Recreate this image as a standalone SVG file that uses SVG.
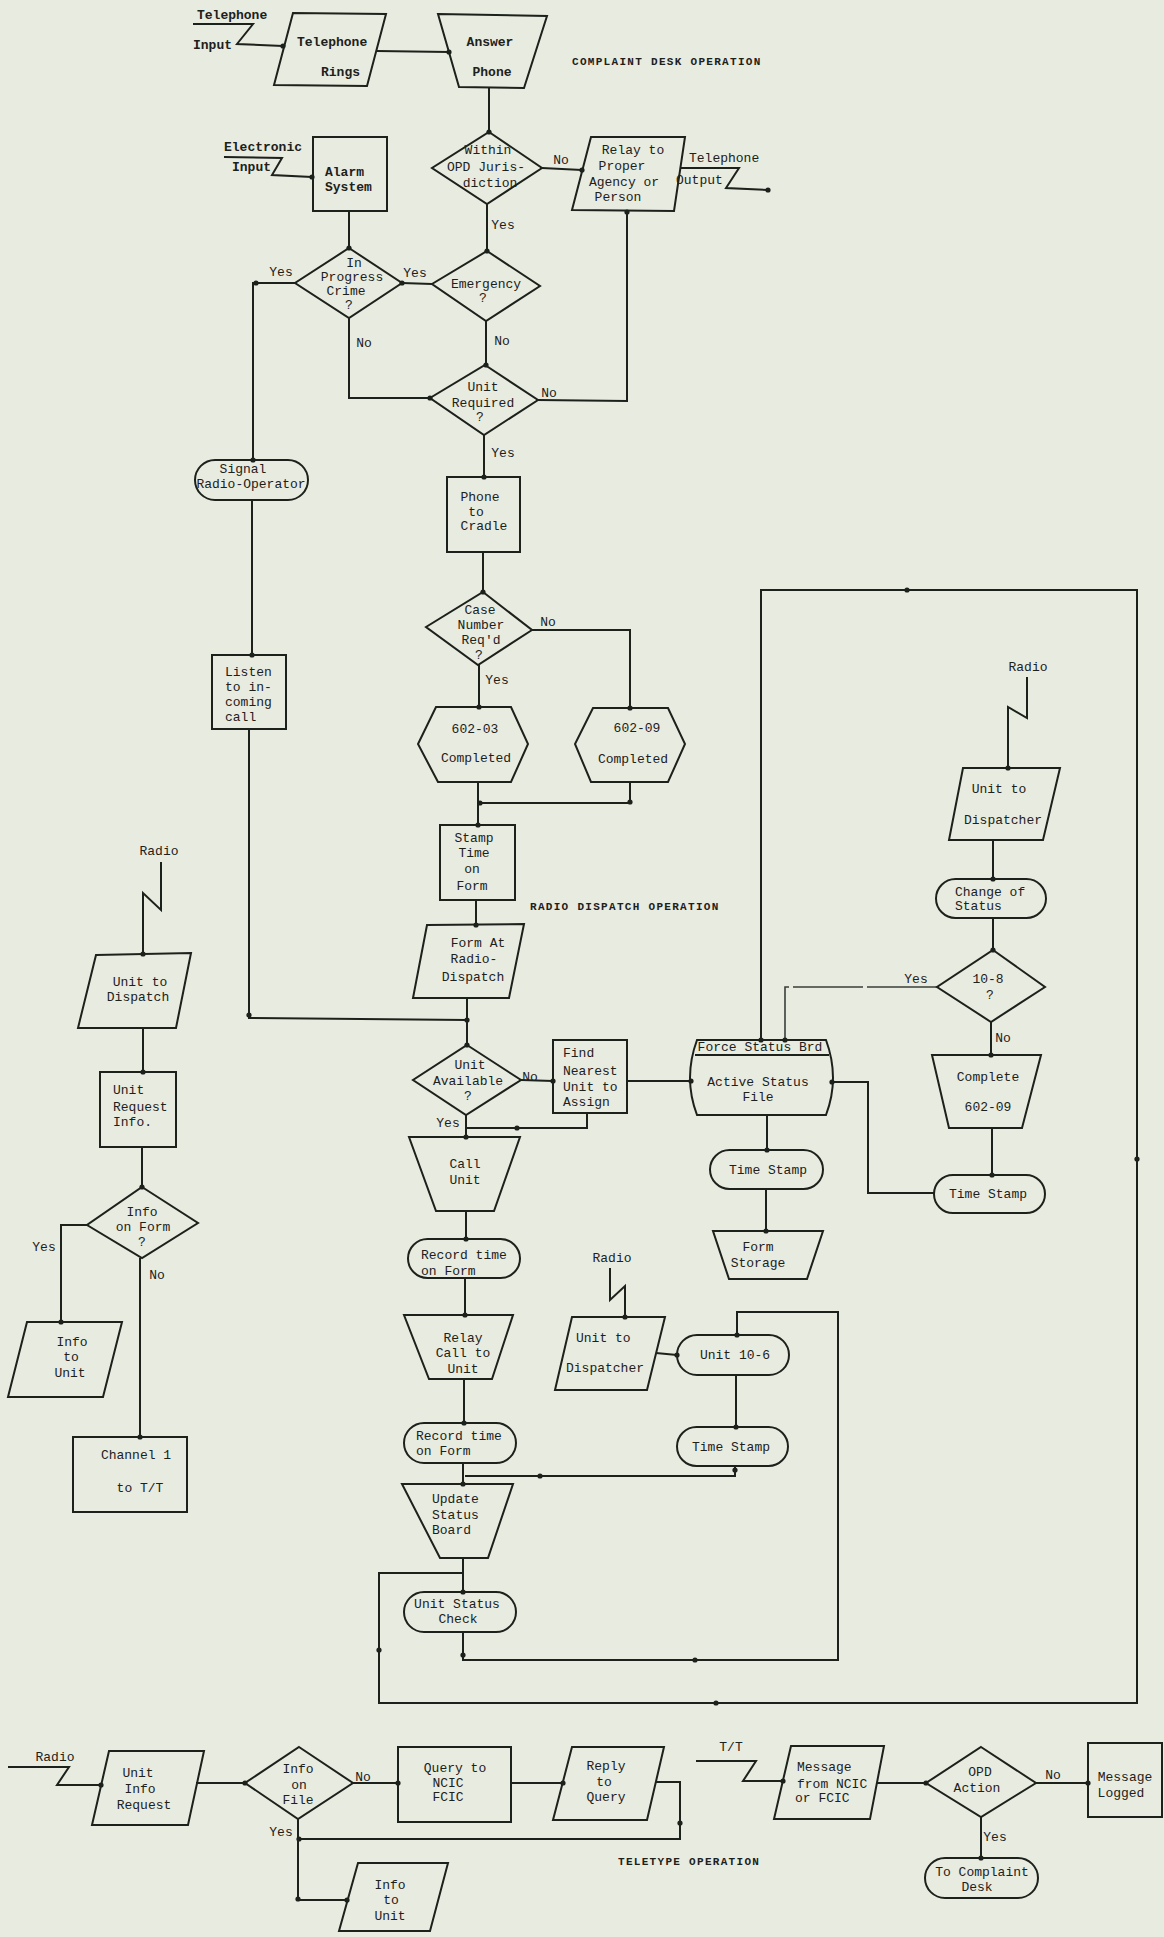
<svg xmlns="http://www.w3.org/2000/svg" width="1164" height="1937" viewBox="0 0 1164 1937">
<defs>
<marker id="dot" viewBox="0 0 6 6" refX="3" refY="3" markerWidth="6" markerHeight="6" markerUnits="userSpaceOnUse"><circle cx="3" cy="3" r="2.6" fill="#1c211c"/></marker>
<style>
.bg{fill:#e8ebdf}
.s{fill:none;stroke:#1c211c;stroke-width:2;stroke-linejoin:miter}
.c{fill:none;stroke:#1c211c;stroke-width:2;marker-end:url(#dot)}
.d{fill:none;stroke:#3a3f3a;stroke-width:1.6;stroke-dasharray:70 4;marker-end:url(#dot)}
.p{fill:#1c211c}
text{font-family:"Liberation Mono","DejaVu Sans Mono",monospace;font-size:13px;fill:#1c211c;dominant-baseline:central;text-anchor:middle}
.l{text-anchor:start}
.b{font-weight:bold}
.h{font-size:11px;font-weight:bold;letter-spacing:1.3px;text-anchor:start}
</style>
</defs>
<rect class="bg" x="0" y="0" width="1164" height="1937"/>

<g id="connectors">
<path class="c" d="M193,24 L253,24 L237,44 L283,46"/>
<path class="c" d="M377,51 L449,52"/>
<path class="c" d="M489,88 L489,132"/>
<path class="c" d="M542,168 L582,170"/>
<path class="c" d="M680,168 L739,168 L726,188 L768,190"/>
<path class="c" d="M487,204 L487,251"/>
<path class="c" d="M432,284 L402,283"/>
<path class="c" d="M224,157 L282,158 L272,175 L312,177"/>
<path class="c" d="M349,211 L349,248"/>
<path class="c" d="M295,283 L253,283 L253,460"/>
<circle class="p" cx="256" cy="283" r="2.6"/>
<path class="c" d="M349,318 L349,398 L430,398"/>
<path class="c" d="M486,321 L486,365"/>
<path class="c" d="M538,400 L627,401 L627,212"/>
<path class="c" d="M484,435 L484,477"/>
<path class="c" d="M483,552 L483,592"/>
<path class="c" d="M532,630 L630,630 L630,708"/>
<path class="c" d="M479,665 L479,707"/>
<path class="c" d="M478,782 L478,825"/>
<path class="c" d="M630,782 L630,803 L480,803"/>
<circle class="p" cx="630" cy="802" r="2.6"/>
<path class="c" d="M476,900 L476,925"/>
<path class="c" d="M467,998 L467,1045"/>
<path class="c" d="M252,500 L252,655"/>
<path class="c" d="M249,729 L249,1018 L467,1020"/>
<circle class="p" cx="249" cy="1015" r="2.6"/>
<path class="c" d="M521,1080 L553,1081"/>
<path class="s" d="M587,1113 L587,1128 L466,1128"/>
<circle class="p" cx="517" cy="1128" r="2.6"/>
<path class="c" d="M466,1115 L466,1137"/>
<path class="c" d="M627,1081 L691,1081"/>
<path class="c" d="M466,1211 L466,1239"/>
<path class="c" d="M465,1278 L465,1315"/>
<path class="c" d="M464,1379 L464,1423"/>
<path class="c" d="M463,1463 L463,1484"/>
<path class="s" d="M735,1466 L735,1476 L465,1476"/>
<circle class="p" cx="540" cy="1476" r="2.6"/>
<circle class="p" cx="735" cy="1470" r="2.6"/>
<path class="c" d="M463,1558 L463,1592"/>
<path class="c" d="M463,1573 L379,1573 L379,1703 L1137,1703 L1137,590 L761,590 L761,1040"/>
<circle class="p" cx="379" cy="1650" r="2.6"/>
<circle class="p" cx="716" cy="1703" r="2.6"/>
<circle class="p" cx="1137" cy="1159" r="2.6"/>
<circle class="p" cx="907" cy="590" r="2.6"/>
<path class="c" d="M463,1632 L463,1660 L838,1660 L838,1312 L737,1312 L737,1335"/>
<circle class="p" cx="463" cy="1655" r="2.6"/>
<circle class="p" cx="695" cy="1660" r="2.6"/>
<path class="c" d="M610,1268 L610,1300 L625,1286 L625,1317"/>
<path class="c" d="M656,1353 L677,1355"/>
<path class="c" d="M736,1375 L736,1427"/>
<path class="c" d="M767,1115 L767,1150"/>
<path class="c" d="M766,1189 L766,1231"/>
<path class="c" d="M934,1193 L868,1193 L868,1082 L832,1082"/>
<path class="c" d="M992,1128 L992,1175"/>
<path class="c" d="M991,1022 L991,1055"/>
<path class="d" d="M937,987 L785,987 L785,1040"/>
<path class="c" d="M993,840 L993,879"/>
<path class="c" d="M993,918 L993,950"/>
<path class="c" d="M1027,677 L1027,718 L1008,707 L1008,768"/>
<path class="c" d="M161,862 L161,910 L143,893 L143,954"/>
<path class="c" d="M143,1028 L143,1072"/>
<path class="c" d="M142,1147 L142,1187"/>
<path class="c" d="M87,1225 L61,1225 L61,1322"/>
<path class="c" d="M140,1258 L140,1437"/>
<path class="c" d="M8,1767 L69,1767 L57,1785 L101,1785"/>
<path class="c" d="M196,1783 L245,1783"/>
<path class="c" d="M353,1783 L398,1783"/>
<path class="c" d="M511,1783 L563,1783"/>
<path class="c" d="M656,1782 L680,1782 L680,1839 L299,1839"/>
<circle class="p" cx="680" cy="1823" r="2.6"/>
<path class="c" d="M298,1819 L298,1900 L347,1900"/>
<circle class="p" cx="298" cy="1899" r="2.6"/>
<path class="c" d="M696,1761 L756,1761 L743,1781 L783,1781"/>
<path class="c" d="M877,1783 L926,1783"/>
<path class="c" d="M1036,1783 L1088,1783"/>
<path class="c" d="M981,1817 L981,1858"/>
</g>

<g id="labels">
<text class="l b" x="197" y="15">Telephone</text>
<text class="l b" x="193" y="45">Input</text>
<text class="l b" x="224" y="147">Electronic</text>
<text class="l b" x="232" y="167">Input</text>
<text class="l" x="689" y="158">Telephone</text>
<text class="l" x="676" y="180">Output</text>
<text class="h" x="572" y="62">COMPLAINT DESK OPERATION</text>
<text class="h" x="530" y="907">RADIO DISPATCH OPERATION</text>
<text class="h" x="618" y="1862">TELETYPE OPERATION</text>
<text x="561" y="160">No</text>
<text x="503" y="225">Yes</text>
<text x="281" y="272">Yes</text>
<text x="415" y="273">Yes</text>
<text x="364" y="343">No</text>
<text x="502" y="341">No</text>
<text x="549" y="393">No</text>
<text x="503" y="453">Yes</text>
<text x="548" y="622">No</text>
<text x="497" y="680">Yes</text>
<text x="159" y="851">Radio</text>
<text x="530" y="1077">No</text>
<text x="448" y="1123">Yes</text>
<text x="1028" y="667">Radio</text>
<text x="916" y="979">Yes</text>
<text x="1003" y="1038">No</text>
<text x="44" y="1247">Yes</text>
<text x="157" y="1275">No</text>
<text x="612" y="1258">Radio</text>
<text x="55" y="1757">Radio</text>
<text x="363" y="1777">No</text>
<text x="281" y="1832">Yes</text>
<text x="731" y="1747">T/T</text>
<text x="1053" y="1775">No</text>
<text x="995" y="1837">Yes</text>
</g>

<g id="telephone-rings"><polygon class="s" points="293,13 386,14 367,86 274,85"/><text class="l b" x="297" y="42">Telephone</text><text class="l b" x="321" y="72">Rings</text></g>
<g id="answer-phone"><polygon class="s" points="438,14 547,16 524,88 459,87"/><text class="b" x="490" y="42">Answer</text><text class="b" x="492" y="72">Phone</text></g>
<g id="within-opd"><polygon class="s" points="489,132 542,168 487,204 432,168"/><text x="488" y="150">Within</text><text x="486" y="167">OPD Juris-</text><text x="490" y="183">diction</text></g>
<g id="relay-agency"><polygon class="s" points="591,137 685,137 674,211 572,210"/><text x="633" y="150">Relay to</text><text x="622" y="166">Proper</text><text x="624" y="182">Agency or</text><text x="618" y="197">Person</text></g>
<g id="alarm-system"><rect class="s" x="313" y="137" width="74" height="74"/><text class="l b" x="325" y="172">Alarm</text><text class="l b" x="325" y="187">System</text></g>
<g id="in-progress"><polygon class="s" points="349,248 402,283 349,318 295,283"/><text x="354" y="263">In</text><text x="352" y="277">Progress</text><text x="346" y="291">Crime</text><text x="349" y="305">?</text></g>
<g id="emergency"><polygon class="s" points="487,251 540,286 486,321 432,284"/><text x="486" y="284">Emergency</text><text x="483" y="298">?</text></g>
<g id="unit-required"><polygon class="s" points="485,365 538,400 484,435 430,398"/><text x="483" y="387">Unit</text><text x="483" y="403">Required</text><text x="480" y="417">?</text></g>
<g id="signal-radio"><rect class="s" x="195" y="460" width="113" height="40" rx="20"/><text x="243" y="469">Signal</text><text x="251" y="484">Radio-Operator</text></g>
<g id="phone-cradle"><rect class="s" x="447" y="477" width="73" height="75"/><text x="480" y="497">Phone</text><text x="476" y="512">to</text><text x="484" y="526">Cradle</text></g>
<g id="case-number"><polygon class="s" points="483,592 532,630 478,665 426,627"/><text x="480" y="610">Case</text><text x="481" y="625">Number</text><text x="481" y="640">Req'd</text><text x="479" y="655">?</text></g>
<g id="f602-03"><polygon class="s" points="436,707 511,707 528,744 511,782 438,782 418,744"/><text x="475" y="729">602-03</text><text x="476" y="758">Completed</text></g>
<g id="f602-09"><polygon class="s" points="593,708 668,708 685,744 668,782 591,782 575,744"/><text x="637" y="728">602-09</text><text x="633" y="759">Completed</text></g>
<g id="listen"><rect class="s" x="212" y="655" width="74" height="74"/><text class="l" x="225" y="672">Listen</text><text class="l" x="225" y="687">to in-</text><text class="l" x="225" y="702">coming</text><text class="l" x="225" y="717">call</text></g>
<g id="stamp-time"><rect class="s" x="440" y="825" width="75" height="75"/><text x="474" y="838">Stamp</text><text x="474" y="853">Time</text><text x="472" y="869">on</text><text x="472" y="886">Form</text></g>
<g id="form-at-radio"><polygon class="s" points="427,925 524,924 509,998 413,998"/><text x="478" y="943">Form At</text><text x="474" y="959">Radio-</text><text x="473" y="977">Dispatch</text></g>
<g id="unit-available"><polygon class="s" points="467,1045 521,1080 466,1115 413,1080"/><text x="470" y="1065">Unit</text><text x="468" y="1081">Available</text><text x="468" y="1096">?</text></g>
<g id="find-nearest"><rect class="s" x="553" y="1040" width="74" height="73"/><text class="l" x="563" y="1053">Find</text><text class="l" x="563" y="1071">Nearest</text><text class="l" x="563" y="1087">Unit to</text><text class="l" x="563" y="1102">Assign</text></g>
<g id="active-status"><path class="s" d="M697,1040 L826,1040 Q840,1078 826,1115 L697,1115 Q683,1078 697,1040 Z"/><path class="s" d="M695,1055 L829,1055"/><text x="760" y="1047">Force Status Brd</text><text x="758" y="1082">Active Status</text><text x="758" y="1097">File</text></g>
<g id="call-unit"><polygon class="s" points="409,1137 520,1137 494,1211 436,1211"/><text x="465" y="1164">Call</text><text x="465" y="1180">Unit</text></g>
<g id="record-time-1"><rect class="s" x="408" y="1239" width="112" height="39" rx="19.5"/><text class="l" x="421" y="1255">Record time</text><text class="l" x="421" y="1271">on Form</text></g>
<g id="relay-call"><polygon class="s" points="404,1315 513,1315 492,1379 429,1379"/><text x="463" y="1338">Relay</text><text x="463" y="1353">Call to</text><text x="463" y="1369">Unit</text></g>
<g id="record-time-2"><rect class="s" x="404" y="1423" width="112" height="40" rx="20"/><text class="l" x="416" y="1436">Record time</text><text class="l" x="416" y="1451">on Form</text></g>
<g id="update-status"><polygon class="s" points="402,1484 513,1484 488,1558 440,1558"/><text class="l" x="432" y="1499">Update</text><text class="l" x="432" y="1515">Status</text><text class="l" x="432" y="1530">Board</text></g>
<g id="unit-status-check"><rect class="s" x="404" y="1592" width="112" height="40" rx="20"/><text x="457" y="1604">Unit Status</text><text x="458" y="1619">Check</text></g>
<g id="time-stamp-a"><rect class="s" x="710" y="1150" width="113" height="39" rx="19.5"/><text x="768" y="1170">Time Stamp</text></g>
<g id="form-storage"><polygon class="s" points="713,1231 823,1231 807,1279 729,1279"/><text x="758" y="1247">Form</text><text x="758" y="1263">Storage</text></g>
<g id="time-stamp-b"><rect class="s" x="934" y="1175" width="111" height="38" rx="19"/><text x="988" y="1194">Time Stamp</text></g>
<g id="unit-to-dispatcher-1"><polygon class="s" points="963,768 1060,768 1043,840 949,840"/><text x="999" y="789">Unit to</text><text x="1003" y="820">Dispatcher</text></g>
<g id="change-status"><rect class="s" x="936" y="879" width="110" height="39" rx="19.5"/><text class="l" x="955" y="892">Change of</text><text class="l" x="955" y="906">Status</text></g>
<g id="ten-eight"><polygon class="s" points="993,950 1045,987 991,1022 937,987"/><text x="988" y="979">10-8</text><text x="990" y="995">?</text></g>
<g id="complete-602-09"><polygon class="s" points="932,1055 1041,1055 1022,1128 949,1128"/><text x="988" y="1077">Complete</text><text x="988" y="1107">602-09</text></g>
<g id="unit-to-dispatcher-2"><polygon class="s" points="572,1317 665,1317 647,1390 555,1390"/><text class="l" x="576" y="1338">Unit to</text><text class="l" x="566" y="1368">Dispatcher</text></g>
<g id="unit-10-6"><rect class="s" x="677" y="1335" width="112" height="40" rx="20"/><text x="735" y="1355">Unit 10-6</text></g>
<g id="time-stamp-c"><rect class="s" x="677" y="1427" width="111" height="39" rx="19.5"/><text x="731" y="1447">Time Stamp</text></g>
<g id="unit-to-dispatch"><polygon class="s" points="96,955 191,953 176,1028 78,1028"/><text x="140" y="982">Unit to</text><text x="138" y="997">Dispatch</text></g>
<g id="unit-request-info"><rect class="s" x="100" y="1072" width="76" height="75"/><text class="l" x="113" y="1090">Unit</text><text class="l" x="113" y="1107">Request</text><text class="l" x="113" y="1122">Info.</text></g>
<g id="info-on-form"><polygon class="s" points="142,1187 198,1223 142,1258 87,1225"/><text x="142" y="1212">Info</text><text x="143" y="1227">on Form</text><text x="142" y="1242">?</text></g>
<g id="info-to-unit-1"><polygon class="s" points="27,1322 122,1322 103,1397 8,1397"/><text x="72" y="1342">Info</text><text x="71" y="1357">to</text><text x="70" y="1373">Unit</text></g>
<g id="channel-1"><rect class="s" x="73" y="1437" width="114" height="75"/><text x="136" y="1455">Channel 1</text><text x="140" y="1488">to  T/T</text></g>
<g id="unit-info-request"><polygon class="s" points="109,1751 204,1751 188,1825 92,1825"/><text x="138" y="1773">Unit</text><text x="140" y="1789">Info</text><text x="144" y="1805">Request</text></g>
<g id="info-on-file"><polygon class="s" points="299,1747 353,1783 298,1819 245,1783"/><text x="298" y="1769">Info</text><text x="299" y="1785">on</text><text x="298" y="1800">File</text></g>
<g id="query-ncic"><rect class="s" x="398" y="1747" width="113" height="75"/><text x="455" y="1768">Query to</text><text x="448" y="1783">NCIC</text><text x="448" y="1797">FCIC</text></g>
<g id="reply-query"><polygon class="s" points="572,1747 664,1747 647,1820 553,1820"/><text x="606" y="1766">Reply</text><text x="604" y="1782">to</text><text x="606" y="1797">Query</text></g>
<g id="info-to-unit-2"><polygon class="s" points="358,1863 448,1863 430,1931 339,1931"/><text x="390" y="1885">Info</text><text x="391" y="1900">to</text><text x="390" y="1916">Unit</text></g>
<g id="message-ncic"><polygon class="s" points="791,1746 884,1746 870,1819 774,1819"/><text class="l" x="797" y="1767">Message</text><text class="l" x="797" y="1784">from NCIC</text><text class="l" x="795" y="1798">or FCIC</text></g>
<g id="opd-action"><polygon class="s" points="981,1747 1036,1783 981,1817 926,1783"/><text x="980" y="1772">OPD</text><text x="977" y="1788">Action</text></g>
<g id="message-logged"><rect class="s" x="1088" y="1743" width="74" height="74"/><text x="1125" y="1777">Message</text><text x="1121" y="1793">Logged</text></g>
<g id="to-complaint-desk"><rect class="s" x="925" y="1858" width="113" height="40" rx="20"/><text x="982" y="1872">To Complaint</text><text x="977" y="1887">Desk</text></g>
</svg>
